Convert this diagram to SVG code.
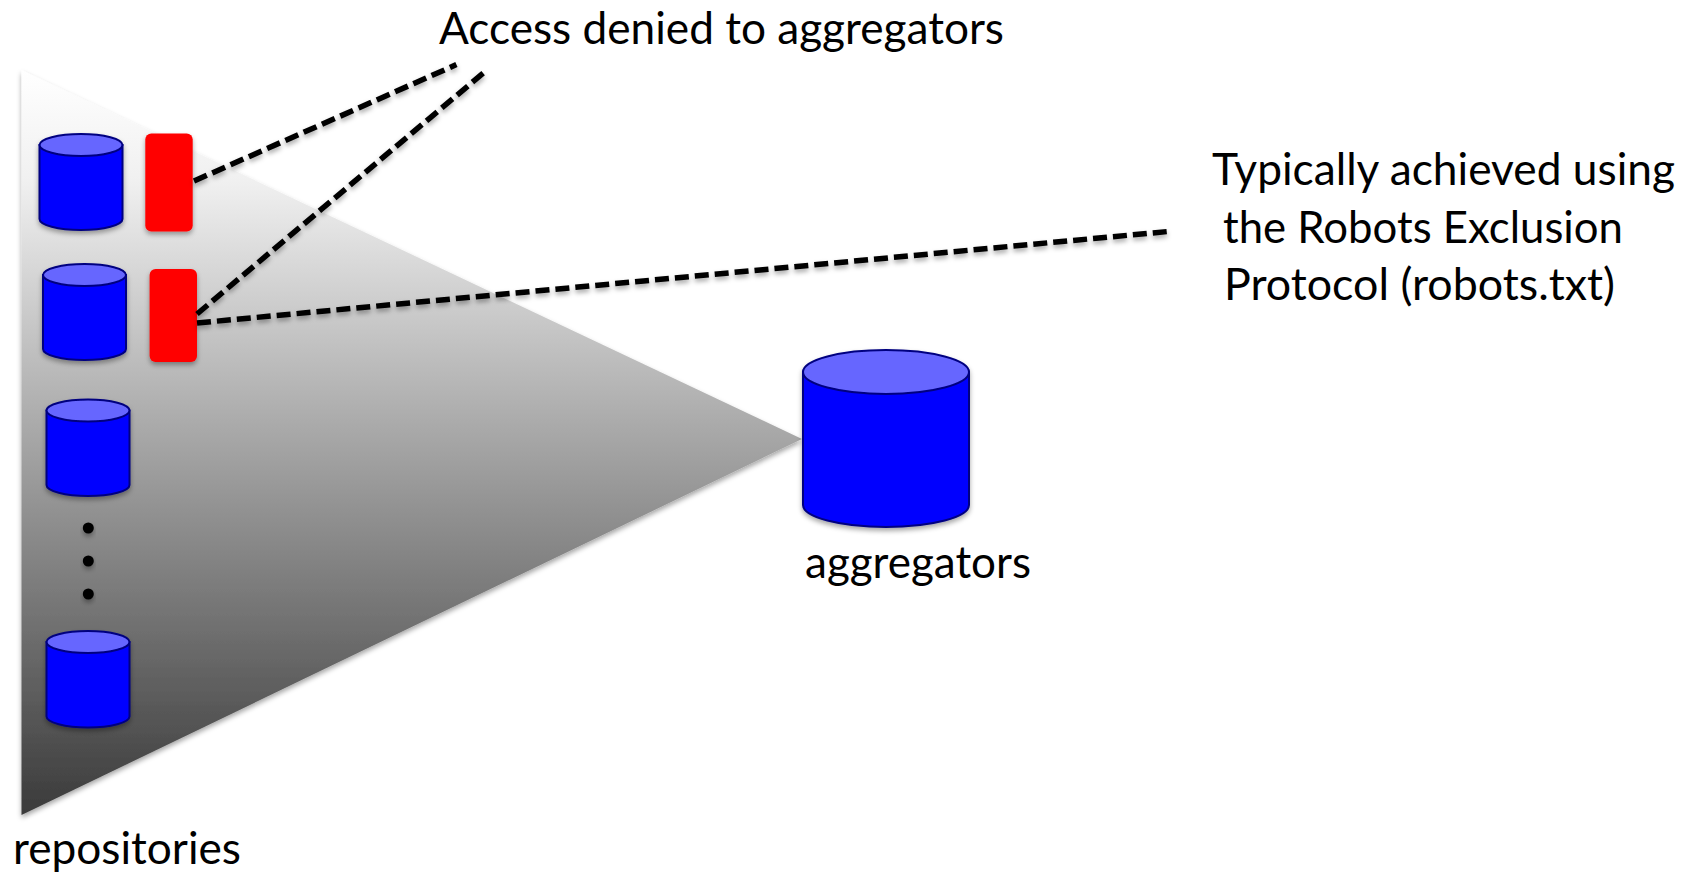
<svg xmlns="http://www.w3.org/2000/svg" width="1688" height="875" viewBox="0 0 1688 875">
<defs>
<linearGradient id="fan" x1="0" y1="70" x2="0" y2="815" gradientUnits="userSpaceOnUse">
<stop offset="0" stop-color="#ffffff"/>
<stop offset="0.15" stop-color="#f0f0f0"/>
<stop offset="1" stop-color="#3a3a3a"/>
</linearGradient>
<filter id="sh" x="-20%" y="-20%" width="140%" height="140%">
<feDropShadow dx="0" dy="3" stdDeviation="2.5" flood-color="#000" flood-opacity="0.35"/>
</filter>
</defs>
<style>
.body{fill:#0000ff;stroke:#000080;stroke-width:2}
.top{fill:#6666ff;stroke:#000080;stroke-width:2}
.deny{fill:#ff0000}
.dash{fill:none;stroke:#000;stroke-width:5.5;stroke-dasharray:14 6}
.lbl{font-family:Lato,"Open Sans","Liberation Sans",sans-serif;font-size:44px;fill:#000}
</style>
<rect width="1688" height="875" fill="#fff"/>
<g id="fan-shape">
<polygon points="21.5,70 802,439 21.5,815" fill="url(#fan)" filter="url(#sh)"/>
</g>
<g id="repo1" filter="url(#sh)">
<path class="body" d="M39.5,145 V219 A41.5,11 0 0 0 122.5,219 V145 Z"/>
<ellipse class="top" cx="81" cy="145" rx="41.5" ry="11"/>
</g>
<g id="deny1" filter="url(#sh)">
<rect class="deny" x="145.3" y="133.5" width="47.4" height="98" rx="6"/>
</g>
<g id="repo2" filter="url(#sh)">
<path class="body" d="M43,275 V349 A41.5,11 0 0 0 126,349 V275 Z"/>
<ellipse class="top" cx="84.5" cy="275" rx="41.5" ry="11"/>
</g>
<g id="deny2" filter="url(#sh)">
<rect class="deny" x="149.6" y="269" width="47.4" height="93" rx="6"/>
</g>
<g id="repo3" filter="url(#sh)">
<path class="body" d="M46.5,410.5 V485 A41.5,11 0 0 0 129.5,485 V410.5 Z"/>
<ellipse class="top" cx="88" cy="410.5" rx="41.5" ry="11"/>
</g>
<g id="ellipsis" filter="url(#sh)">
<circle cx="88.3" cy="528" r="5.5"/>
<circle cx="88.3" cy="561" r="5.5"/>
<circle cx="88.3" cy="594" r="5.5"/>
</g>
<g id="repo4" filter="url(#sh)">
<path class="body" d="M46.5,642 V716.5 A41.5,11 0 0 0 129.5,716.5 V642 Z"/>
<ellipse class="top" cx="88" cy="642" rx="41.5" ry="11"/>
</g>
<g id="aggregator" filter="url(#sh)">
<path class="body" d="M803,372 V505 A83,22 0 0 0 969,505 V372 Z"/>
<ellipse class="top" cx="886" cy="372" rx="83" ry="22"/>
</g>
<g id="connectors" filter="url(#sh)">
<line class="dash" x1="194" y1="181" x2="456.4" y2="64.6"/>
<line class="dash" x1="197" y1="314" x2="484.4" y2="72.1"/>
<line class="dash" x1="197" y1="323" x2="1168" y2="231.5"/>
</g>
<g id="labels">
<text class="lbl" x="439" y="44" textLength="565" lengthAdjust="spacingAndGlyphs">Access denied to aggregators</text>
<text class="lbl" x="1212" y="185" textLength="463" lengthAdjust="spacingAndGlyphs">Typically achieved using</text>
<text class="lbl" x="1223" y="243" textLength="400" lengthAdjust="spacingAndGlyphs">the Robots Exclusion</text>
<text class="lbl" x="1224" y="300" textLength="391" lengthAdjust="spacingAndGlyphs">Protocol (robots.txt)</text>
<text class="lbl" x="805" y="578" textLength="226" lengthAdjust="spacingAndGlyphs">aggregators</text>
<text class="lbl" x="13" y="864" textLength="228" lengthAdjust="spacingAndGlyphs">repositories</text>
</g>
</svg>
